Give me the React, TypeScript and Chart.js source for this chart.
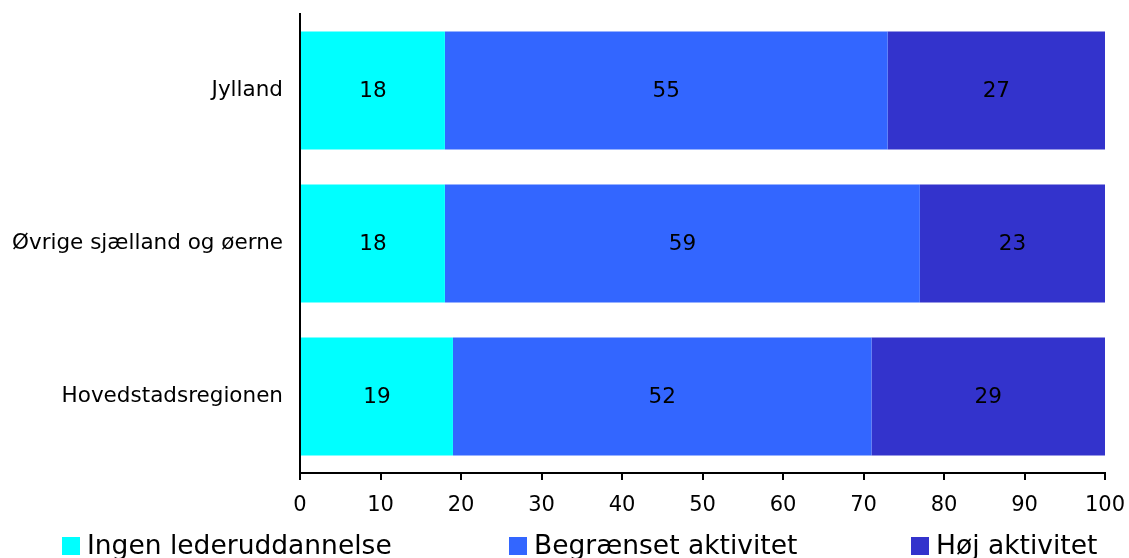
import React, { useEffect, useRef } from "react";
import { Chart, registerables } from "chart.js";

Chart.register(...registerables);

const regions = ["Jylland", "Øvrige sjælland og øerne", "Hovedstadsregionen"];
const seriesNames = ["Ingen lederuddannelse", "Begrænset aktivitet", "Høj aktivitet"];
const ingenValues = [18, 18, 19];
const begraensetValues = [55, 59, 52];
const hoejValues = [27, 23, 29];
const seriesColors = ["#00FFFF", "#3366FF", "#3333CC"];
const xTicks = [0, 10, 20, 30, 40, 50, 60, 70, 80, 90, 100];

const FONT = "'DejaVu Sans', Verdana, sans-serif";

// Writes each segment's value in the middle of its bar.
const valueLabels = {
  id: "valueLabels",
  afterDatasetsDraw(chart: any) {
    const ctx = chart.ctx;
    ctx.save();
    ctx.font = `21.5px ${FONT}`;
    ctx.fillStyle = "#000";
    ctx.textAlign = "center";
    ctx.textBaseline = "middle";
    chart.data.datasets.forEach((ds: any, i: number) => {
      const meta = chart.getDatasetMeta(i);
      meta.data.forEach((bar: any, j: number) => {
        ctx.fillText(String(ds.data[j]), (bar.x + bar.base) / 2, bar.y + 1);
      });
    });
    ctx.restore();
  },
};

// Legend row along the bottom edge, one entry per series.
const bottomLegend = {
  id: "bottomLegend",
  afterDraw(chart: any) {
    const ctx = chart.ctx;
    const starts = [62, 509, 911];
    const y = 546;
    ctx.save();
    ctx.font = `26.5px ${FONT}`;
    ctx.textAlign = "left";
    ctx.textBaseline = "middle";
    chart.data.datasets.forEach((ds: any, i: number) => {
      const x = starts[i];
      ctx.fillStyle = ds.backgroundColor;
      ctx.fillRect(x, y - 9, 18, 18);
      ctx.fillStyle = "#000";
      ctx.fillText(ds.label, x + 25, y + 1);
    });
    ctx.restore();
  },
};

export default function App() {
  const canvasRef = useRef<HTMLCanvasElement | null>(null);

  useEffect(() => {
    if (!canvasRef.current) return;
    const values = [ingenValues, begraensetValues, hoejValues];
    const chart = new Chart(canvasRef.current, {
      type: "bar",
      data: {
        labels: regions,
        datasets: seriesNames.map((name, i) => ({
          label: name,
          data: values[i],
          backgroundColor: seriesColors[i],
          borderColor: seriesColors[i],
          borderWidth: 0,
          categoryPercentage: 1,
          barPercentage: 0.77,
        })),
      },
      options: {
        indexAxis: "y",
        responsive: false,
        animation: false,
        layout: { padding: { top: 14, right: 24, left: 0, bottom: 0 } },
        plugins: {
          legend: { display: false },
          tooltip: { enabled: false },
        },
        scales: {
          x: {
            stacked: true,
            min: 0,
            max: 100,
            afterBuildTicks: (scale: any) => {
              scale.ticks = xTicks.map((v) => ({ value: v }));
            },
            afterFit: (scale: any) => {
              scale.height = 85;
              scale.paddingLeft = 0;
              scale.paddingRight = 0;
            },
            ticks: {
              color: "#000",
              font: { family: FONT, size: 21 },
              padding: 13,
              maxRotation: 0,
            },
            grid: {
              drawOnChartArea: false,
              drawTicks: true,
              tickLength: 7,
              color: "#000",
              lineWidth: 2,
            },
            border: { display: true, color: "#000", width: 2 },
          },
          y: {
            stacked: true,
            afterFit: (scale: any) => {
              scale.width = 300;
              scale.paddingTop = 0;
              scale.paddingBottom = 0;
            },
            ticks: {
              color: "#000",
              font: { family: FONT, size: 21.5 },
              padding: 17,
            },
            grid: { display: false, drawTicks: false },
            border: { display: true, color: "#000", width: 2 },
          },
        },
      },
      plugins: [valueLabels, bottomLegend],
    });
    return () => chart.destroy();
  }, []);

  return (
    <div style={{ position: "absolute", left: 0, top: 0, width: 1129, height: 558, background: "#fff" }}>
      <canvas ref={canvasRef} width={1129} height={558} style={{ display: "block" }} />
    </div>
  );
}
